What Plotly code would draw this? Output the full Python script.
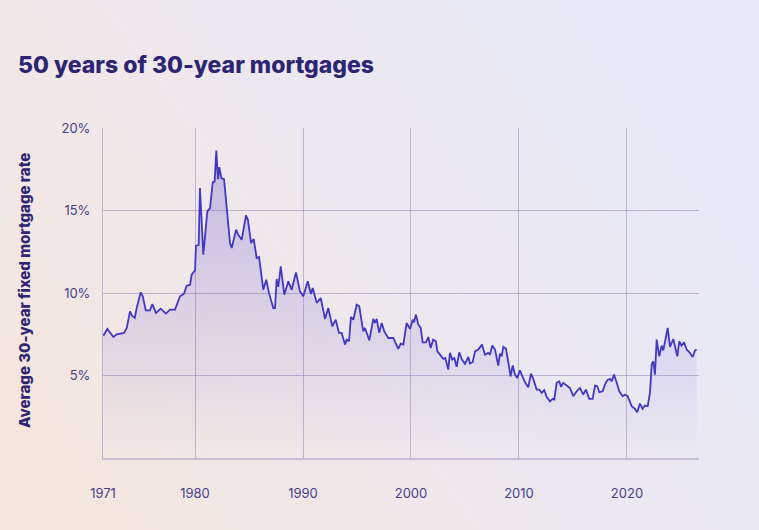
import base64
import plotly.graph_objects as go

# decimal year and average 30-year fixed rate (%)
years = [
    1971.51, 1971.88, 1972.44, 1972.75, 1973.43, 1973.68, 1973.98, 1974.14, 1974.42, 1974.6,
    1974.97, 1975.16, 1975.44, 1975.83, 1976.05, 1976.39, 1976.82, 1977.31, 1977.69, 1978.15,
    1978.61, 1978.98, 1979.23, 1979.54, 1979.69, 1980.0, 1980.09, 1980.34, 1980.46, 1980.77,
    1981.14, 1981.39, 1981.64, 1981.82, 1981.97, 1982.13, 1982.25, 1982.44, 1982.69, 1983.03,
    1983.24, 1983.4, 1983.8, 1984.0, 1984.32, 1984.72, 1984.9, 1985.19, 1985.44, 1985.71,
    1985.93, 1986.32, 1986.6, 1986.85, 1987.25, 1987.41, 1987.56, 1987.71, 1987.94, 1988.27,
    1988.64, 1988.95, 1989.35, 1989.72, 1990.03, 1990.44, 1990.74, 1990.9, 1991.27, 1991.64,
    1992.04, 1992.34, 1992.71, 1993.03, 1993.33, 1993.58, 1993.89, 1994.05, 1994.26, 1994.44,
    1994.66, 1994.97, 1995.21, 1995.58, 1995.74, 1996.14, 1996.51, 1996.67, 1996.82, 1997.06,
    1997.29, 1997.53, 1997.9, 1998.36, 1998.82, 1999.05, 1999.29, 1999.6, 1999.91, 2000.16,
    2000.28, 2000.46, 2000.68, 2000.9, 2001.08, 2001.39, 2001.6, 2001.82, 2002.06, 2002.31,
    2002.44, 2002.69, 2002.99, 2003.18, 2003.45, 2003.61, 2003.82, 2004.01, 2004.23, 2004.47,
    2004.72, 2005.0, 2005.31, 2005.46, 2005.71, 2005.93, 2006.23, 2006.57, 2006.85, 2007.16,
    2007.31, 2007.53, 2007.78, 2008.08, 2008.24, 2008.4, 2008.55, 2008.8, 2009.1, 2009.23,
    2009.42, 2009.63, 2009.84, 2010.09, 2010.34, 2010.56, 2010.86, 2011.11, 2011.32, 2011.64,
    2011.88, 2012.1, 2012.34, 2012.56, 2012.87, 2013.12, 2013.27, 2013.49, 2013.73, 2013.89,
    2014.1, 2014.42, 2014.72, 2015.03, 2015.34, 2015.65, 2015.95, 2016.2, 2016.51, 2016.82,
    2017.04, 2017.25, 2017.44, 2017.75, 2017.96, 2018.18, 2018.43, 2018.58, 2018.8, 2019.05,
    2019.29, 2019.6, 2019.81, 2020.06, 2020.28, 2020.44, 2020.74, 2020.95, 2021.2, 2021.45,
    2021.67, 2021.92, 2022.13, 2022.29, 2022.44, 2022.59, 2022.75, 2022.99, 2023.21, 2023.36,
    2023.61, 2023.77, 2023.98, 2024.29, 2024.66, 2024.84, 2025.06, 2025.28, 2025.53, 2025.83,
    2026.08, 2026.3, 2026.45,
]
rates = [
    7.42, 7.83, 7.34, 7.50, 7.59, 7.89, 8.90, 8.65, 8.50, 9.10,
    10.05, 9.81, 8.96, 8.96, 9.34, 8.80, 9.06, 8.76, 9.00, 9.00,
    9.81, 9.97, 10.45, 10.50, 11.12, 11.38, 12.88, 12.92, 16.38, 12.33,
    14.96, 15.16, 16.72, 16.78, 18.65, 16.92, 17.65, 16.98, 16.92, 14.25,
    13.04, 12.74, 13.85, 13.55, 13.24, 14.72, 14.45, 13.04, 13.28, 12.13,
    12.19, 10.21, 10.82, 10.00, 9.10, 9.10, 10.86, 10.38, 11.62, 9.91,
    10.72, 10.21, 11.26, 10.11, 9.81, 10.72, 9.95, 10.31, 9.41, 9.71,
    8.44, 9.10, 7.99, 8.39, 7.59, 7.59, 6.88, 7.18, 7.08, 8.56,
    8.39, 9.30, 9.20, 7.68, 7.89, 7.14, 8.44, 8.19, 8.44, 7.59,
    8.19, 7.68, 7.28, 7.28, 6.62, 6.94, 6.88, 8.19, 7.83, 8.39,
    8.23, 8.70, 8.09, 7.89, 7.02, 7.02, 7.34, 6.68, 7.18, 7.08,
    6.47, 6.27, 6.01, 6.07, 5.36, 6.38, 5.97, 6.07, 5.53, 6.41,
    5.97, 5.71, 6.13, 5.73, 5.81, 6.47, 6.58, 6.88, 6.27, 6.38,
    6.27, 6.82, 6.58, 5.61, 6.33, 6.17, 6.74, 6.62, 5.36, 4.96,
    5.61, 5.06, 4.86, 5.32, 4.92, 4.59, 4.29, 5.12, 4.80, 4.15,
    4.15, 3.95, 4.11, 3.71, 3.44, 3.59, 3.55, 4.56, 4.65, 4.32,
    4.56, 4.39, 4.25, 3.75, 4.05, 4.25, 3.85, 4.15, 3.59, 3.59,
    4.39, 4.35, 3.99, 4.05, 4.45, 4.72, 4.80, 4.65, 5.06, 4.56,
    4.05, 3.75, 3.85, 3.75, 3.44, 3.14, 2.98, 2.78, 3.30, 2.98,
    3.18, 3.14, 3.95, 5.67, 5.87, 5.06, 7.18, 6.17, 6.82, 6.53,
    7.34, 7.89, 6.74, 7.22, 6.17, 7.08, 6.82, 7.02, 6.58, 6.38,
    6.13, 6.53, 6.58,
]

x_start, x_end = 1971.48, 2026.67
x_tickvals = [x_start, 1980, 1990, 2000, 2010, 2020]
x_ticktext = ["1971", "1980", "1990", "2000", "2010", "2020"]
y_tickvals = [5, 10, 15, 20]
y_ticktext = ["5%", "10%", "15%", "20%"]

W, H = 759, 530
L, R, T, B = 103, 60, 128, 72
pw, ph = W - L - R, H - T - B

TEXT = "#2d2573"
TICK = "#463f8c"
GRID = "rgba(150,135,180,0.55)"
LINE = "#4338c2"

bg_svg = f"""<svg xmlns='http://www.w3.org/2000/svg' width='{W}' height='{H}'>
<defs><linearGradient id='g' x1='0' y1='0.75' x2='1' y2='0.25'>
<stop offset='0' stop-color='#f5e6dd'/><stop offset='0.5' stop-color='#ede8ef'/>
<stop offset='1' stop-color='#e6e8fa'/></linearGradient></defs>
<rect width='{W}' height='{H}' fill='url(#g)'/></svg>"""
bg_uri = "data:image/svg+xml;base64," + base64.b64encode(bg_svg.encode()).decode()

fig = go.Figure()
fig.add_trace(go.Scatter(
    x=years, y=rates,
    mode="lines",
    line=dict(color=LINE, width=1.8),
    fill="tozeroy",
    fillgradient=dict(
        type="vertical",
        start=0, stop=19,
        colorscale=[[0, "rgba(125,110,215,0.0)"], [0.3, "rgba(125,110,215,0.12)"], [1, "rgba(110,95,200,0.35)"]],
    ),
    hoverinfo="x+y",
    showlegend=False,
))

fig.update_layout(
    width=W, height=H,
    margin=dict(l=L, r=R, t=T, b=B),
    paper_bgcolor="#eee8f0",
    plot_bgcolor="rgba(0,0,0,0)",
    font=dict(family="Inter", size=13, color=TICK),
    title=dict(
        text="50 years of 30-year mortgages",
        x=18 / W, xref="container", xanchor="left",
        y=1 - 65 / H, yref="container", yanchor="middle",
        font=dict(family="Inter", size=23, color=TEXT, weight=800),
    ),
    images=[dict(
        source=bg_uri, xref="paper", yref="paper",
        x=-L / pw, y=1 + T / ph, sizex=W / pw, sizey=H / ph,
        xanchor="left", yanchor="top", sizing="stretch", layer="below",
    )],
    annotations=[dict(
        text="Average 30-year fixed mortgage rate",
        xref="paper", yref="paper",
        x=(24 - L) / pw, y=(H - B - 291) / ph,
        xanchor="center", yanchor="middle",
        textangle=-90, showarrow=False,
        font=dict(family="Inter", size=15, color=TEXT, weight=800),
    )],
)
fig.update_xaxes(
    range=[x_start, x_end],
    tickvals=x_tickvals, ticktext=x_ticktext,
    showgrid=True, gridcolor=GRID, gridwidth=1,
    showline=True, linecolor="rgba(175,160,200,0.6)", linewidth=2,
    zeroline=False, ticks="", ticklabelstandoff=22,
    tickfont=dict(size=13, color=TICK),
)
fig.update_yaxes(
    range=[0, 20.02],
    tickvals=y_tickvals, ticktext=y_ticktext,
    showgrid=True, gridcolor=GRID, gridwidth=1,
    showline=True, linecolor=GRID, linewidth=1,
    zeroline=False, ticks="", ticklabelstandoff=9,
    tickfont=dict(size=13, color=TICK),
)

# the page's default 8px body margin would shift the chart
fig.write_html(
    "out.html",
    config={"displayModeBar": False},
    post_script="document.body.style.margin='0';",
)
